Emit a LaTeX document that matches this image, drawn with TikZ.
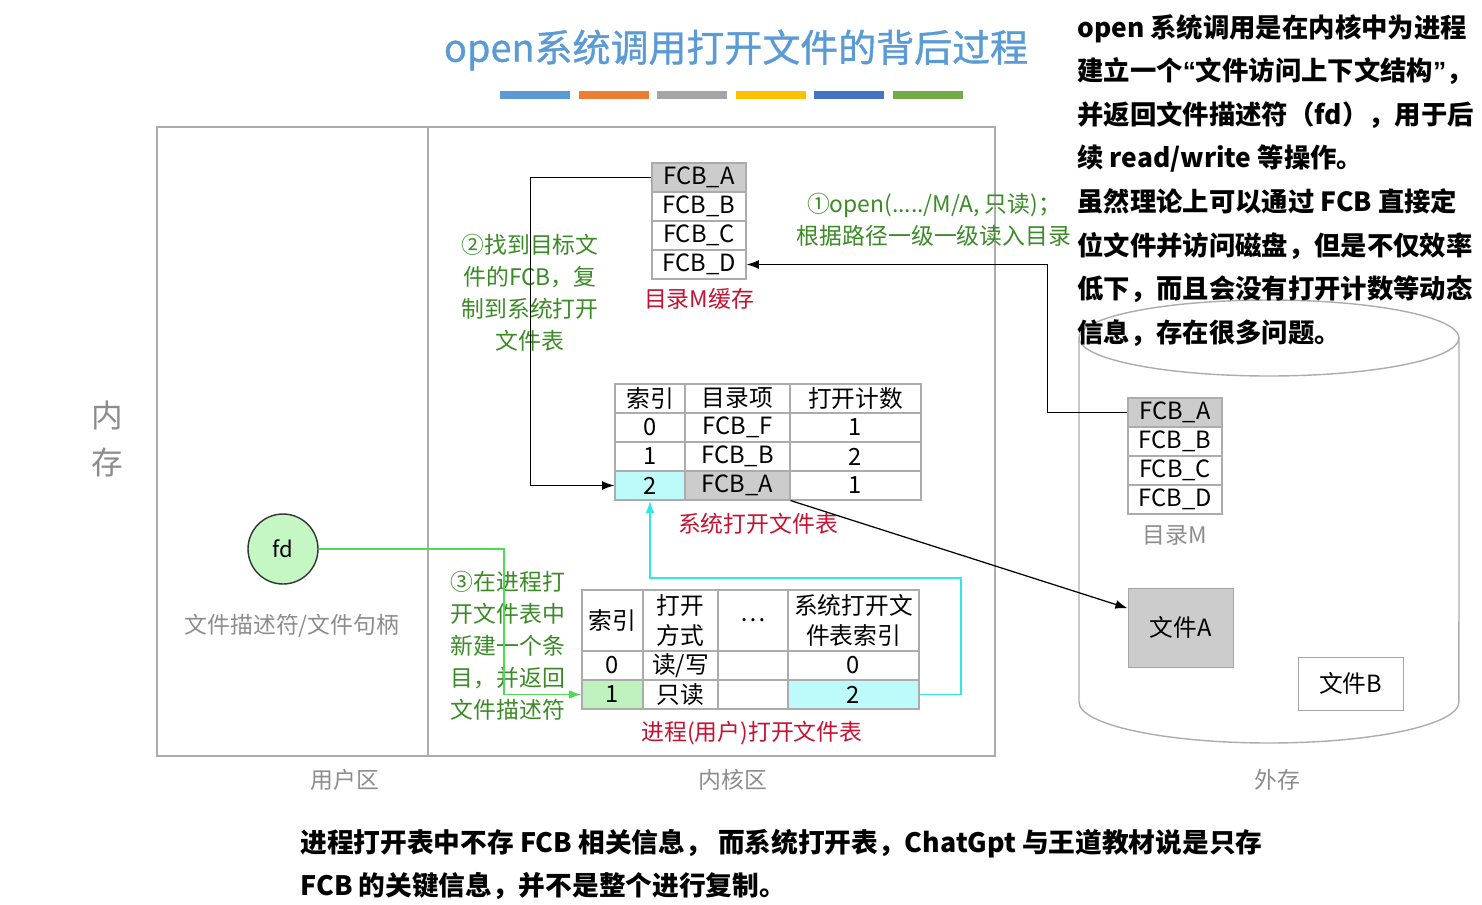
\documentclass[tikz,border=0pt]{standalone}
\usepackage{fontspec}
\setmainfont{Noto Sans CJK SC}
\newfontfamily\quotefont{Liberation Sans}
\newfontfamily\titlefont[FakeBold=1]{Noto Sans CJK SC}
\usetikzlibrary{arrows.meta,positioning,calc}

\definecolor{titleblue}{HTML}{5B9BD5}
\definecolor{barorange}{HTML}{ED7D31}
\definecolor{bargray}{HTML}{A5A5A5}
\definecolor{baryellow}{HTML}{FFC000}
\definecolor{bardark}{HTML}{4472C4}
\definecolor{bargreen}{HTML}{70AD47}
\definecolor{stepgreen}{HTML}{3A8A26}
\definecolor{tabred}{HTML}{C41230}
\definecolor{labgray}{HTML}{8C8C8C}
\definecolor{fcbgray}{HTML}{CCCCCC}
\definecolor{idxcyan}{HTML}{BDFBFB}
\definecolor{idxgreen}{HTML}{BFF2BF}
\definecolor{fdgreen}{HTML}{C4F7C4}
\definecolor{linkgreen}{HTML}{4CDD55}
\definecolor{linkcyan}{HTML}{33E6EE}

\tikzset{
  cell/.style={draw=gray!65, line width=0.6pt, inner sep=0pt, minimum height=0.58cm, align=center, font=\fontsize{13.5}{17.5}\selectfont},
  fcbcol/.style={minimum width=1.88cm},
  steptext/.style={text=stepgreen, align=center, font=\fontsize{13}{18.2}\selectfont},
  tabname/.style={text=tabred, font=\fontsize{13}{16}\selectfont},
  arealabel/.style={text=labgray, font=\fontsize{13}{16}\selectfont},
  note/.style={align=left, anchor=north west, inner sep=0pt},
  frame/.style={draw=gray!65, line width=0.8pt},
}

\begin{document}
\begin{tikzpicture}[x=0.02cm, y=-0.02cm, >={Latex[length=7pt,width=5pt]}]
\useasboundingbox (0,0) rectangle (1482,904);

% Title
\node[text=titleblue, font=\titlefont\fontsize{21.6}{24}\selectfont] (title) at (736,50) {open系统调用打开文件的背后过程};
\foreach \c [count=\i from 0] in {titleblue,barorange,bargray,baryellow,bardark,bargreen}
  \fill[\c] (500+\i*78.6,91) rectangle ++(70,8);

% Memory frame
\draw[frame] (157,127) rectangle (995,756);
\draw[frame] (428,127) -- (428,756);
\node[text=labgray, font=\fontsize{18}{27}\selectfont, align=center] (mem) at (107,439) {内\\存};
\node[arealabel] (user) at (345,780) {用户区};
\node[arealabel] (kernel) at (733,780) {内核区};
\node[arealabel] (disk) at (1277,780) {外存};

% Disk
\draw[frame] (1269,338) ellipse [x radius=3.8cm, y radius=0.76cm];
\draw[frame] (1079,338) -- (1079,702) arc[start angle=180, end angle=360, x radius=3.8cm, y radius=0.82cm] -- (1459,338);

% Directory M on disk
\node[cell, fcbcol, fill=fcbgray] (dA) at (1175,412.5) {FCB\_A};
\node[cell, fcbcol] (dB) at (1175,441.5) {FCB\_B};
\node[cell, fcbcol] (dC) at (1175,470.5) {FCB\_C};
\node[cell, fcbcol] (dD) at (1175,499.5) {FCB\_D};
\node[arealabel] (dirM) at (1175,535) {目录M};
\node[draw=gray!70, fill=fcbgray, minimum width=2.1cm, minimum height=1.58cm, font=\fontsize{13.5}{16}\selectfont] (fileA) at (1180.5,627.5) {文件A};
\node[draw=gray!70, minimum width=2.1cm, minimum height=1.06cm, font=\fontsize{13.5}{16}\selectfont] (fileB) at (1350.5,683.5) {文件B};

% Directory M cache
\node[cell, fcbcol, fill=fcbgray] (cA) at (699,177.5) {FCB\_A};
\node[cell, fcbcol] (cB) at (699,206.5) {FCB\_B};
\node[cell, fcbcol] (cC) at (699,235.5) {FCB\_C};
\node[cell, fcbcol] (cD) at (699,264.5) {FCB\_D};
\node[tabname] (cachename) at (699,299) {目录M缓存};

% System open file table
\node[cell, minimum width=1.4cm] (s01) at (650,398.5) {索引};
\node[cell, minimum width=2.1cm] (s02) at (737.5,398.5) {目录项};
\node[cell, minimum width=2.62cm] (s03) at (855.5,398.5) {打开计数};
\node[cell, minimum width=1.4cm] (s11) at (650,427.5) {0};
\node[cell, minimum width=2.1cm] (s12) at (737.5,427.5) {FCB\_F};
\node[cell, minimum width=2.62cm] (s13) at (855.5,427.5) {1};
\node[cell, minimum width=1.4cm] (s21) at (650,456.5) {1};
\node[cell, minimum width=2.1cm] (s22) at (737.5,456.5) {FCB\_B};
\node[cell, minimum width=2.62cm] (s23) at (855.5,456.5) {2};
\node[cell, minimum width=1.4cm, fill=idxcyan] (s31) at (650,485.5) {2};
\node[cell, minimum width=2.1cm, fill=fcbgray] (s32) at (737.5,485.5) {FCB\_A};
\node[cell, minimum width=2.62cm] (s33) at (855.5,485.5) {1};
\node[tabname] (sysname) at (758,524) {系统打开文件表};

% Process open file table
\node[cell, minimum width=1.22cm, minimum height=1.22cm] (p01) at (612.5,620.5) {索引};
\node[cell, minimum width=1.5cm, minimum height=1.22cm] (p02) at (680.5,620.5) {打开\\方式};
\node[cell, minimum width=1.4cm, minimum height=1.22cm] (p03) at (753,620.5) {…};
\node[cell, minimum width=2.62cm, minimum height=1.22cm] (p04) at (853.5,620.5) {系统打开文\\件表索引};
\node[cell, minimum width=1.22cm] (p11) at (612.5,665.5) {0};
\node[cell, minimum width=1.5cm] (p12) at (680.5,665.5) {读/写};
\node[cell, minimum width=1.4cm] (p13) at (753,665.5) {};
\node[cell, minimum width=2.62cm] (p14) at (853.5,665.5) {0};
\node[cell, minimum width=1.22cm, fill=idxgreen] (p21) at (612.5,694.5) {1};
\node[cell, minimum width=1.5cm] (p22) at (680.5,694.5) {只读};
\node[cell, minimum width=1.4cm] (p23) at (753,694.5) {};
\node[cell, minimum width=2.62cm, fill=idxcyan] (p24) at (853.5,694.5) {2};
\node[tabname] (procname) at (752,733) {进程(用户)打开文件表};

% fd
\node[circle, draw=black!80, fill=fdgreen, line width=0.8pt, minimum size=1.4cm, font=\fontsize{12.5}{15}\selectfont] (fd) at (283,549) {fd};
\node[arealabel] (fdname) at (292,626) {文件描述符/文件句柄};

% Steps
\node[steptext] (step1) at (934,219.5) {①open(...../M/A, 只读)；\\根据路径一级一级读入目录};
\node[steptext] (step2) at (530,293) {②找到目标文\\件的FCB，复\\制到系统打开\\文件表};
\node[steptext] (step3) at (508,646) {③在进程打\\开文件表中\\新建一个条\\目，并返回\\文件描述符};

% Connectors
\draw[->, line width=0.7pt] (dA.west) -- ++(-80,0) |- (cD.east);
\draw[->, line width=0.7pt] (cA.west) -- ++(-121,0) |- (s31.west);
\draw[->, line width=0.7pt] (s32.south east) -- (fileA.160);
\draw[->, linkgreen, line width=1.1pt] (fd.east) -- ++(185,0) |- (p21.west);
\coordinate (cyanturn) at (961,578);
\draw[->, linkcyan, line width=1.1pt] (p24.east) -| (cyanturn) -- (cyanturn -| s31.south) -- (s31.south);

% Notes
\node[note, font=\bfseries\fontsize{15}{24.8}\selectfont] (note1) at (1077,14) {open 系统调用是在内核中为进程\\建立一个{\quotefont“}文件访问上下文结构{\quotefont”}，\\并返回文件描述符（fd），用于后\\续 read/write 等操作。\\虽然理论上可以通过 FCB 直接定\\位文件并访问磁盘，但是不仅效率\\低下，而且会没有打开计数等动态\\信息，存在很多问题。};
\node[note, font=\bfseries\fontsize{15.2}{24.4}\selectfont] (note2) at (300,829) {进程打开表中不存 FCB 相关信息， 而系统打开表，ChatGpt 与王道教材说是只存\\FCB 的关键信息，并不是整个进行复制。};
\end{tikzpicture}
\end{document}
